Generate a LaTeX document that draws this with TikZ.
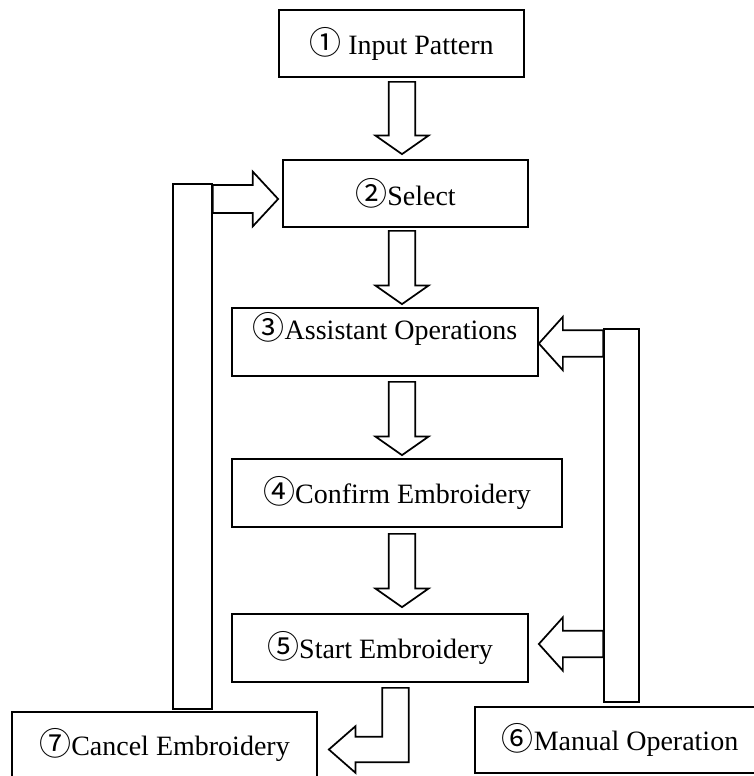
\documentclass[tikz,border=0pt]{standalone}
\usepackage{fontspec}
\setmainfont{Liberation Serif}
\newfontfamily\circfont{Noto Sans CJK SC}
\usetikzlibrary{calc}

\tikzset{
  stepbox/.style={draw, line width=1.3pt, inner sep=0pt, font=\fontsize{21}{25}\selectfont},
  barbox/.style={draw, line width=1.3pt, inner sep=0pt},
  blockarrow/.style={draw, line width=1.3pt, fill=white, line join=miter},
}
\newcommand{\cnum}[1]{{\circfont\fontsize{24}{25}\selectfont #1}}

% hollow block arrows: #1 start point, #2 tip
\newcommand{\blockdown}[2]{%
  \draw[blockarrow] let \p1=#1, \p2=#2 in
    (\x1-10pt,\y1) -- (\x1+10pt,\y1) -- (\x1+10pt,\y2+14pt) -- (\x1+20pt,\y2+14pt)
    -- (\x1,\y2) -- (\x1-20pt,\y2+14pt) -- (\x1-10pt,\y2+14pt) -- cycle;}
\newcommand{\blockright}[2]{%
  \draw[blockarrow] let \p1=#1, \p2=#2 in
    (\x1,\y1+10.5pt) -- (\x2-19pt,\y1+10.5pt) -- (\x2-19pt,\y1+20.5pt)
    -- (\x2,\y1) -- (\x2-19pt,\y1-20.5pt) -- (\x2-19pt,\y1-10.5pt) -- (\x1,\y1-10.5pt) -- cycle;}
\newcommand{\blockleft}[2]{%
  \draw[blockarrow] let \p1=#1, \p2=#2 in
    (\x1,\y1+10pt) -- (\x2+18pt,\y1+10pt) -- (\x2+18pt,\y1+20pt)
    -- (\x2,\y1) -- (\x2+18pt,\y1-20pt) -- (\x2+18pt,\y1-10pt) -- (\x1,\y1-10pt) -- cycle;}
\newcommand{\blockbend}[2]{%
  \draw[blockarrow] let \p1=#1, \p2=#2 in
    (\x1-10pt,\y1) -- (\x1+10pt,\y1) -- (\x1+10pt,\y2-9.5pt) -- (\x2+20pt,\y2-9.5pt)
    -- (\x2+20pt,\y2-17.5pt) -- (\x2,\y2) -- (\x2+20pt,\y2+17.5pt) -- (\x2+20pt,\y2+9.5pt)
    -- (\x1-10pt,\y2+9.5pt) -- cycle;}

\begin{document}
\begin{tikzpicture}[x=0.75pt,y=-0.75pt]
\useasboundingbox (0,0) rectangle (754,776);
\clip (0,0) rectangle (754,776);
\coordinate (col) at (402,0);

% steps
\node[stepbox, minimum width=183.75pt, minimum height=50.25pt] (in) at (401.5,43.5) {\cnum{①} Input Pattern};
\node[stepbox, minimum width=183.75pt, minimum height=50.25pt] (sel) at (405.5,193.5) {\cnum{②}Select};
\node[stepbox, minimum width=229.5pt, minimum height=51pt] (ast) at (385,342)
  {\raisebox{9.75pt}[\height][\depth]{\cnum{③}Assistant Operations}};
\node[stepbox, minimum width=247.5pt, minimum height=51pt] (cnf) at (397,493) {\cnum{④}Confirm Embroidery};
\node[stepbox, minimum width=222pt, minimum height=51pt] (sta) at (380,648) {\cnum{⑤}Start Embroidery};
\node[stepbox, minimum width=217.5pt, minimum height=49.5pt] (man) at (620,740) {\cnum{⑥}Manual Operation};
\node[stepbox, minimum width=228.75pt, minimum height=49.5pt] (cnl) at (164.5,745) {\cnum{⑦}Cancel Embroidery};

% feedback bars
\node[barbox, minimum width=29.25pt, minimum height=393.75pt] (lbar) at (192.5,446.5) {};
\node[barbox, minimum width=26.25pt, minimum height=279.75pt] (rbar) at (621.5,515.5) {};

% main flow
\blockdown{($(col |- in.south)+(0,4)$)}{($(col |- sel.north)+(0,-5)$)}
\blockdown{($(col |- sel.south)+(0,3)$)}{($(col |- ast.north)+(0,-3)$)}
\blockdown{($(col |- ast.south)+(0,5)$)}{($(col |- cnf.north)+(0,-3)$)}
\blockdown{($(col |- cnf.south)+(0,6)$)}{($(col |- sta.north)+(0,-6)$)}

% side arrows
\blockright{($(lbar.east |- sel.west)+(0,5.5)$)}{($(sel.west)+(-4,5.5)$)}
\blockleft{($(rbar.west |- ast.east)+(0,1.5)$)}{($(ast.east)+(0,1.5)$)}
\blockleft{($(rbar.west |- sta.east)+(0,-4)$)}{($(sta.east)+(10,-4)$)}
\blockbend{($(sta.south)+(15.5,5)$)}{($(cnl.east)+(11,4.5)$)}
\end{tikzpicture}
\end{document}
